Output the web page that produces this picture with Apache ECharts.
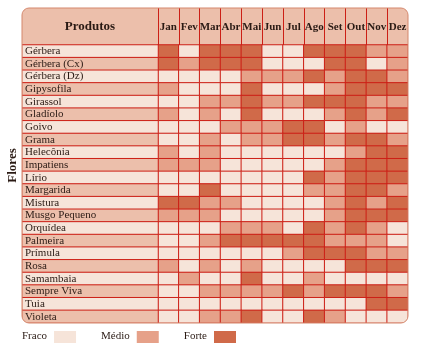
<!DOCTYPE html>
<html><head><meta charset="utf-8">
<script src="https://cdn.jsdelivr.net/npm/echarts@6/dist/echarts.min.js"></script>
<style>html,body{margin:0;padding:0;background:#fff}#c{width:426px;height:356px}</style>
</head><body><div id="c"></div>
<script>
// Categories
const months = ['Jan','Fev','Mar','Abr','Mai','Jun','Jul','Ago','Set','Out','Nov','Dez'];
const products = ['Gérbera','Gérbera (Cx)','Gérbera (Dz)','Gipysofila','Girassol','Gladíolo','Goivo','Grama','Helecônia','Impatiens','Lírio','Margarida','Mistura','Musgo Pequeno','Orquídea','Palmeira','Prímula','Rosa','Samambaia','Sempre Viva','Tuia','Violeta'];
const levelNames = ['Fraco','Médio','Forte'];
const headerLabel = 'Produtos';
const rowAxisName = 'Flores';

// Levels per month: 0 = Fraco, 1 = Médio, 2 = Forte
const gerbera      = [2,0,2,2,2,0,0,2,2,2,1,1];
const gerberaCx    = [2,1,2,2,2,0,0,0,2,2,0,1];
const gerberaDz    = [0,0,0,0,1,1,1,2,1,2,2,1];
const gipysofila   = [1,0,0,0,2,0,0,0,1,2,2,2];
const girassol     = [0,0,1,1,2,1,1,2,2,2,1,1];
const gladiolo     = [1,0,1,0,2,0,0,0,1,2,1,2];
const goivo        = [0,0,0,1,1,1,2,2,0,1,0,0];
const grama        = [0,0,1,0,1,1,2,2,1,2,2,1];
const heleconia    = [1,0,1,0,0,0,0,0,0,1,2,2];
const impatiens    = [1,1,1,0,0,0,0,0,1,2,2,2];
const lirio        = [0,0,0,0,0,0,0,2,1,2,2,2];
const margarida    = [0,0,2,0,0,0,0,1,1,2,2,1];
const mistura      = [2,2,1,1,0,0,0,0,1,2,1,2];
const musgoPequeno = [1,1,1,0,0,0,0,0,1,2,2,2];
const orquidea     = [0,0,0,1,1,1,0,2,1,2,1,0];
const palmeira     = [0,0,1,2,2,2,2,2,1,1,1,0];
const primula      = [0,0,0,0,0,0,1,2,2,2,1,1];
const rosa         = [1,0,1,0,1,0,0,0,0,2,2,2];
const samambaia    = [0,1,0,0,2,0,0,1,0,0,0,0];
const sempreViva   = [0,0,1,1,1,1,2,1,2,2,2,1];
const tuia         = [0,0,0,0,0,0,0,0,0,0,2,2];
const violeta      = [0,0,1,1,2,0,0,2,1,0,0,0];

const rows = [gerbera,gerberaCx,gerberaDz,gipysofila,girassol,gladiolo,goivo,grama,heleconia,impatiens,lirio,margarida,mistura,musgoPequeno,orquidea,palmeira,primula,rosa,samambaia,sempreViva,tuia,violeta];

const C_LIGHT = '#f6e4d9', C_MED = '#e6a189', C_DARK = '#d06a49', C_SALMON = '#ecbfab', C_RED = '#cc1f16', C_TXT = '#2a1a14';
const FONT = "'Liberation Serif', 'Times New Roman', serif";

const heatData = [];
rows.forEach((r, yi) => r.forEach((v, xi) => heatData.push([xi, yi, v])));
const nameData = products.map((p, i) => [0, i, i % 2]);

const L = 22, T = 8, HB = 45, B = 323, NC = 158, R = 408, RAD = 7;

const chart = echarts.init(document.getElementById('c'), null, {renderer: 'canvas'});
chart.setOption({
  animation: false,
  backgroundColor: '#fff',
  grid: [
    {left: NC, top: HB, width: R - NC, height: B - HB},
    {left: L, top: HB, width: NC - L, height: B - HB}
  ],
  xAxis: [
    {type: 'category', gridIndex: 0, data: months, position: 'top', z: 5,
     axisLine: {show: false},
     axisTick: {show: true, interval: 0, length: HB - T, lineStyle: {color: C_RED, width: 1}},
     axisLabel: {interval: 0, margin: 18, verticalAlign: 'middle', fontFamily: FONT, fontWeight: 'bold', fontSize: 11, color: C_TXT},
     splitLine: {show: false}},
    {type: 'category', gridIndex: 1, data: [headerLabel], position: 'top', z: 5,
     axisLine: {show: false}, axisTick: {show: false},
     axisLabel: {margin: 18, verticalAlign: 'middle', fontFamily: FONT, fontWeight: 'bold', fontSize: 13, color: C_TXT}}
  ],
  yAxis: [
    {type: 'category', gridIndex: 0, data: products, inverse: true,
     axisLine: {show: false}, axisTick: {show: false}, axisLabel: {show: false}},
    {type: 'category', gridIndex: 1, data: products, inverse: true, z: 5,
     axisLine: {show: false}, axisTick: {show: false},
     axisLabel: {inside: true, margin: 3, interval: 0, fontFamily: FONT, fontSize: 11, color: C_TXT}}
  ],
  visualMap: [
    {type: 'piecewise', seriesIndex: 0, orient: 'horizontal', left: 7, top: 315,
     itemWidth: 22, itemHeight: 13, itemGap: 25, textGap: 7, align: 'right', selectedMode: false,
     itemSymbol: 'rect',
     textStyle: {fontFamily: FONT, fontSize: 11, color: C_TXT},
     pieces: [
       {value: 0, label: levelNames[0], color: C_LIGHT},
       {value: 1, label: levelNames[1], color: C_MED},
       {value: 2, label: levelNames[2], color: C_DARK}
     ]},
    {type: 'piecewise', seriesIndex: 1, show: false,
     pieces: [{value: 0, color: C_LIGHT}, {value: 1, color: C_SALMON}]}
  ],
  series: [
    {type: 'heatmap', xAxisIndex: 0, yAxisIndex: 0, data: heatData,
     itemStyle: {borderColor: C_RED, borderWidth: 1}, emphasis: {disabled: true}},
    {type: 'heatmap', xAxisIndex: 1, yAxisIndex: 1, data: nameData,
     itemStyle: {borderColor: C_RED, borderWidth: 1}, emphasis: {disabled: true}}
  ],
  graphic: [
    {type: 'rect', z: -10, silent: true,
     shape: {x: L, y: T, width: R - L, height: B - T, r: RAD},
     style: {fill: C_SALMON}},
    {type: 'rect', z: 100, silent: true,
     shape: {x: L - 4, y: T - 4, width: R - L + 8, height: B - T + 8, r: RAD + 4},
     style: {fill: null, stroke: '#fff', lineWidth: 8}},
    {type: 'rect', z: 101, silent: true,
     shape: {x: L, y: T, width: R - L, height: B - T, r: RAD},
     style: {fill: null, stroke: '#d4876c', lineWidth: 1}},
    {type: 'text', z: 101, silent: true, x: 12.5, y: (T + B) / 2, rotation: Math.PI / 2,
     style: {text: rowAxisName, fontFamily: FONT, fontWeight: 'bold', fontSize: 13, fill: C_TXT, align: 'center', verticalAlign: 'middle'}}
  ]
});
</script></body></html>
